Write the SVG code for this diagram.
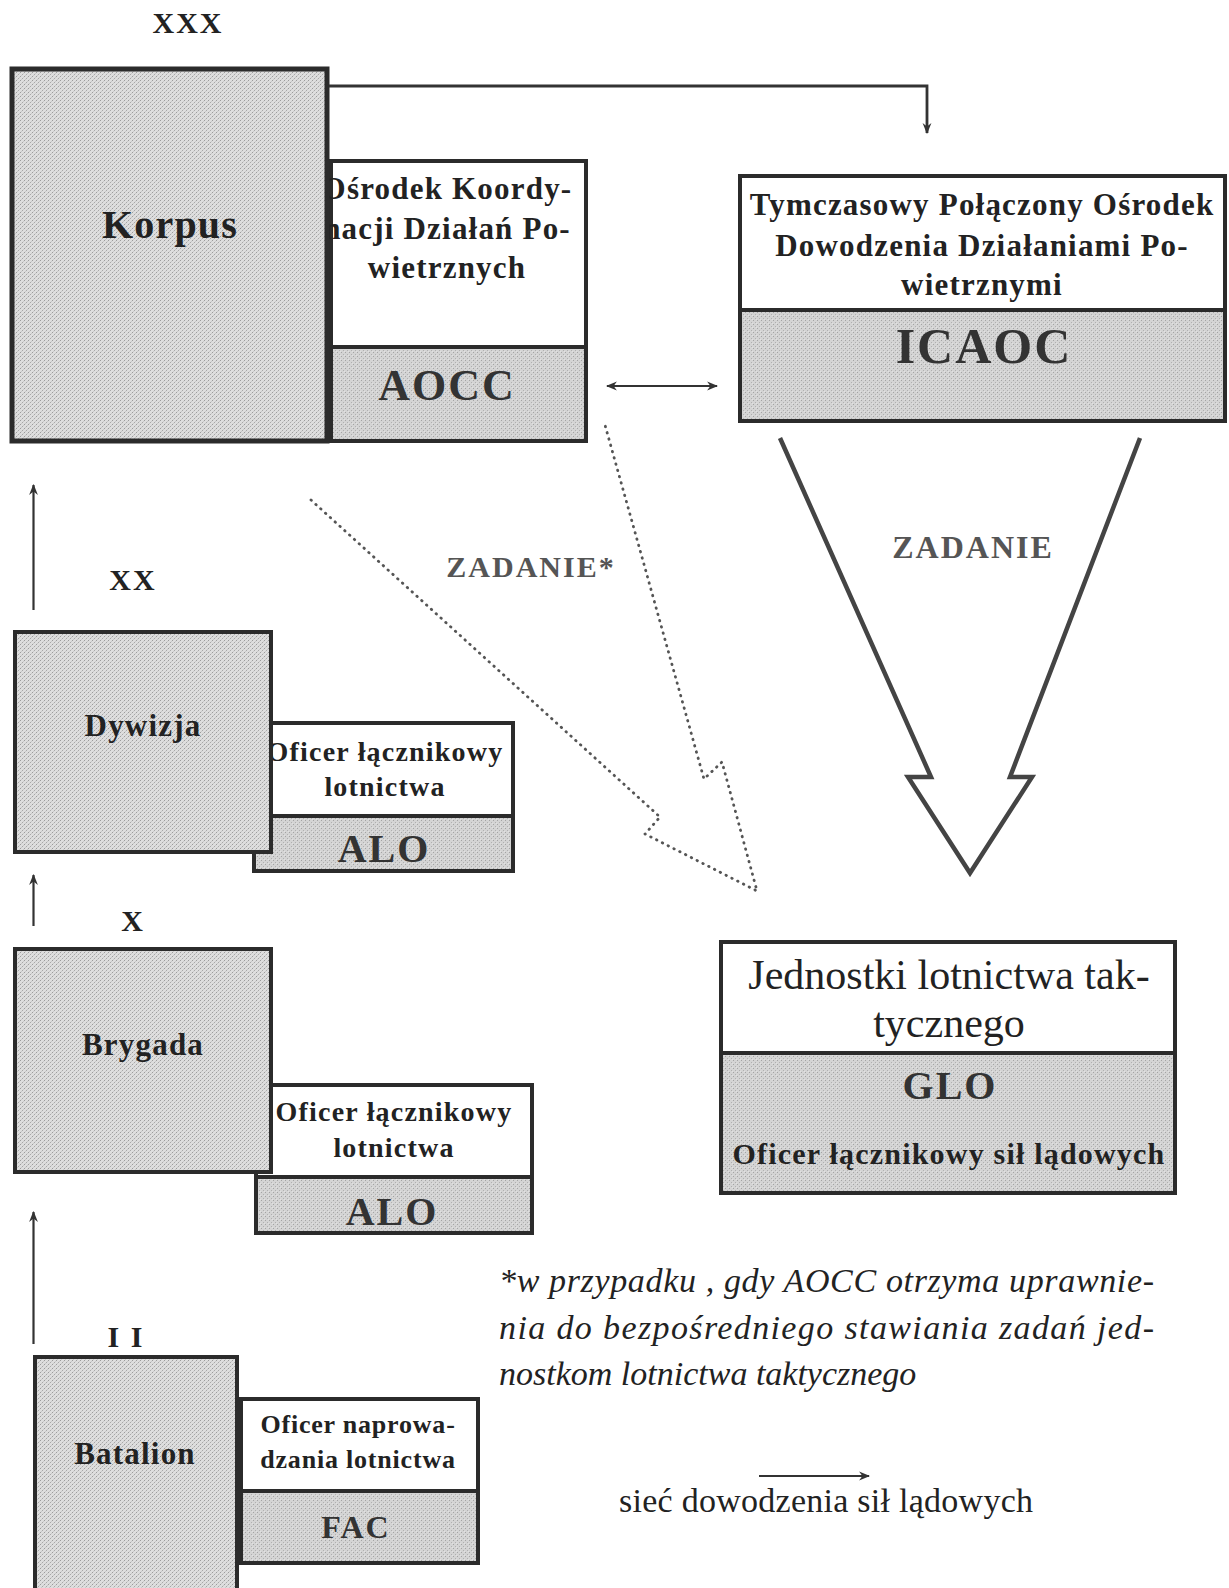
<svg xmlns="http://www.w3.org/2000/svg" width="1229" height="1588" viewBox="0 0 1229 1588">
  <defs>
    <!-- halftone-like grey fills -->
    <pattern id="tone1" width="4" height="4" patternUnits="userSpaceOnUse">
      <rect width="4" height="4" fill="#dedede"/>
      <rect x="0" y="0" width="1" height="1" fill="#9c9c9c"/>
      <rect x="2" y="2" width="1" height="1" fill="#a8a8a8"/>
      <rect x="1" y="3" width="1" height="1" fill="#c8c8c8"/>
      <rect x="3" y="1" width="1" height="1" fill="#c8c8c8"/>
    </pattern>
    <pattern id="tone2" width="4" height="4" patternUnits="userSpaceOnUse">
      <rect width="4" height="4" fill="#d4d4d4"/>
      <rect x="1" y="0" width="1" height="1" fill="#a4a4a4"/>
      <rect x="3" y="2" width="1" height="1" fill="#b0b0b0"/>
      <rect x="0" y="3" width="1" height="1" fill="#e2e2e2"/>
    </pattern>
    <marker id="head" viewBox="0 0 10 10" refX="9" refY="5" markerWidth="11" markerHeight="11" markerUnits="userSpaceOnUse" orient="auto-start-reverse">
      <path d="M0,1 L10,5 L0,9 L3,5 Z" fill="#333"/>
    </marker>
  </defs>
  <style>
    .frame { fill: none; stroke: #2b2b2b; stroke-width: 4; }
    .heavy { stroke-width: 5; }
    .unit { fill: url(#tone1); }
    .tag { fill: url(#tone2); }
    .white { fill: #ffffff; }
    text { font-family: "Liberation Serif", "Times New Roman", serif; fill: #222; text-anchor: middle; }
    .b { font-weight: bold; letter-spacing: 1.2px; }
    .t30 { font-size: 31px; }
    .t28 { font-size: 28px; }
    .acr { font-weight: bold; fill: #333; letter-spacing: 2px; }
    .echelon { font-weight: bold; font-size: 30px; letter-spacing: 2px; fill: #222; }
    .task { font-weight: bold; fill: #555; letter-spacing: 2px; }
    .note { font-style: italic; font-size: 34px; text-anchor: start; }
    .link { fill: none; stroke: #333; stroke-width: 2.2; }
    .main { stroke-width: 2.8; }
    .dots { fill: none; stroke: #555; stroke-width: 2.8; stroke-dasharray: 0.5 6; stroke-linecap: round; stroke-linejoin: round; }
    .band { fill: none; stroke: #444; stroke-width: 4.5; stroke-linejoin: miter; }
  </style>

  <!-- echelon marks -->
  <text class="echelon" x="188" y="33">XXX</text>
  <text class="echelon" x="133" y="590">XX</text>
  <text class="echelon" x="133" y="931">X</text>
  <text class="echelon" x="126" y="1347">I I</text>

  <!-- air operations coordination centre (partly covered by the corps box) -->
  <g id="aocc">
    <rect class="white" x="331" y="161" width="255" height="280"/>
    <rect class="tag" x="331" y="347" width="255" height="94"/>
    <path class="frame" d="M331,161 H586 V441 H331 Z M331,347 H586"/>
    <text class="b t30" x="447" y="199">Ośrodek Koordy-</text>
    <text class="b t30" x="447" y="239">nacji Działań Po-</text>
    <text class="b t30" x="447" y="278">wietrznych</text>
    <text class="acr" x="447" y="400" font-size="44">AOCC</text>
  </g>

  <g id="korpus">
    <rect class="unit" x="12" y="69" width="315" height="372"/>
    <rect class="frame heavy" x="12" y="69" width="315" height="372"/>
    <text class="b" x="170" y="238" font-size="40" fill="#2a2a2a">Korpus</text>
  </g>

  <g id="icaoc">
    <rect class="white" x="740" y="176" width="485" height="245"/>
    <rect class="tag" x="740" y="310" width="485" height="111"/>
    <path class="frame" d="M740,176 H1225 V421 H740 Z M740,310 H1225"/>
    <text class="b t30" x="982" y="215">Tymczasowy Połączony Ośrodek</text>
    <text class="b t30" x="982" y="256">Dowodzenia Działaniami Po-</text>
    <text class="b t30" x="982" y="295">wietrznymi</text>
    <text class="acr" x="984" y="363" font-size="50">ICAOC</text>
  </g>

  <!-- division -->
  <g id="alo-dywizja">
    <rect class="white" x="254" y="723" width="259" height="148"/>
    <rect class="tag" x="254" y="816" width="259" height="55"/>
    <path class="frame" d="M254,723 H513 V871 H254 Z M254,816 H513"/>
    <text class="b t28" x="385" y="761">Oficer łącznikowy</text>
    <text class="b t28" x="385" y="796">lotnictwa</text>
    <text class="acr" x="384" y="862" font-size="40">ALO</text>
  </g>
  <g id="dywizja">
    <rect class="unit" x="15" y="632" width="256" height="220"/>
    <rect class="frame" x="15" y="632" width="256" height="220"/>
    <text class="b t30" x="143" y="736">Dywizja</text>
  </g>

  <!-- brigade -->
  <g id="alo-brygada">
    <rect class="white" x="256" y="1085" width="276" height="148"/>
    <rect class="tag" x="256" y="1177" width="276" height="56"/>
    <path class="frame" d="M256,1085 H532 V1233 H256 Z M256,1177 H532"/>
    <text class="b t28" x="394" y="1121">Oficer łącznikowy</text>
    <text class="b t28" x="394" y="1157">lotnictwa</text>
    <text class="acr" x="392" y="1225" font-size="40">ALO</text>
  </g>
  <g id="brygada">
    <rect class="unit" x="15" y="949" width="256" height="223"/>
    <rect class="frame" x="15" y="949" width="256" height="223"/>
    <text class="b t30" x="143" y="1055">Brygada</text>
  </g>

  <!-- battalion -->
  <g id="fac">
    <rect class="white" x="241" y="1399" width="237" height="164"/>
    <rect class="tag" x="241" y="1491" width="237" height="72"/>
    <path class="frame" d="M241,1399 H478 V1563 H241 Z M241,1491 H478"/>
    <text x="358" y="1433" font-size="26" font-weight="bold" letter-spacing="0.8">Oficer naprowa-</text>
    <text x="358" y="1468" font-size="26" font-weight="bold" letter-spacing="0.8">dzania lotnictwa</text>
    <text class="acr" x="356" y="1538" font-size="32">FAC</text>
  </g>
  <g id="batalion">
    <rect class="unit" x="35" y="1357" width="202" height="240"/>
    <rect class="frame" x="35" y="1357" width="202" height="240"/>
    <text class="b" x="135" y="1464" font-size="31">Batalion</text>
  </g>

  <!-- tactical air units -->
  <g id="glo">
    <rect class="white" x="721" y="942" width="454" height="251"/>
    <rect class="tag" x="721" y="1053" width="454" height="140"/>
    <path class="frame" d="M721,942 H1175 V1193 H721 Z M721,1053 H1175"/>
    <text x="949" y="989" font-size="42">Jednostki lotnictwa tak-</text>
    <text x="949" y="1037" font-size="42">tycznego</text>
    <text class="acr" x="950" y="1099" font-size="40" letter-spacing="3">GLO</text>
    <text class="b" x="949" y="1164" font-size="30" fill="#1e1e1e">Oficer łącznikowy sił lądowych</text>
  </g>

  <!-- connectors -->
  <g id="connectors">
    <polyline class="link main" points="329,86 927,86 927,133" marker-end="url(#head)"/>
    <line class="link" x1="607" y1="386" x2="717" y2="386" marker-start="url(#head)" marker-end="url(#head)"/>
    <line class="link" x1="33.5" y1="610" x2="33.5" y2="485" marker-end="url(#head)"/>
    <line class="link" x1="33.5" y1="926" x2="33.5" y2="875" marker-end="url(#head)"/>
    <line class="link" x1="33.5" y1="1344" x2="33.5" y2="1212" marker-end="url(#head)"/>
    <!-- tasking arrow ICAOC -> air units -->
    <polyline class="band" points="780,438 931,777 908,777 970,873 1032,777 1010,777 1140,438"/>
    <text class="task" x="973" y="558" font-size="32">ZADANIE</text>
    <!-- optional tasking arrow AOCC -> air units -->
    <polyline class="dots" points="311,500 660,817 645,834 757,891 722,762 704,779 605,425"/>
    <text class="task" x="531" y="577" font-size="30">ZADANIE*</text>
    <!-- legend -->
    <line class="link" x1="759" y1="1476" x2="869" y2="1476" marker-end="url(#head)"/>
  </g>

  <!-- footnote and legend -->
  <text class="note" x="499" y="1292" textLength="655">*w przypadku , gdy AOCC otrzyma uprawnie-</text>
  <text class="note" x="499" y="1339" textLength="655">nia do bezpośredniego stawiania  zadań jed-</text>
  <text class="note" x="499" y="1385">nostkom lotnictwa taktycznego</text>
  <text x="826" y="1512" font-size="34" textLength="414">sieć dowodzenia sił lądowych</text>
</svg>
